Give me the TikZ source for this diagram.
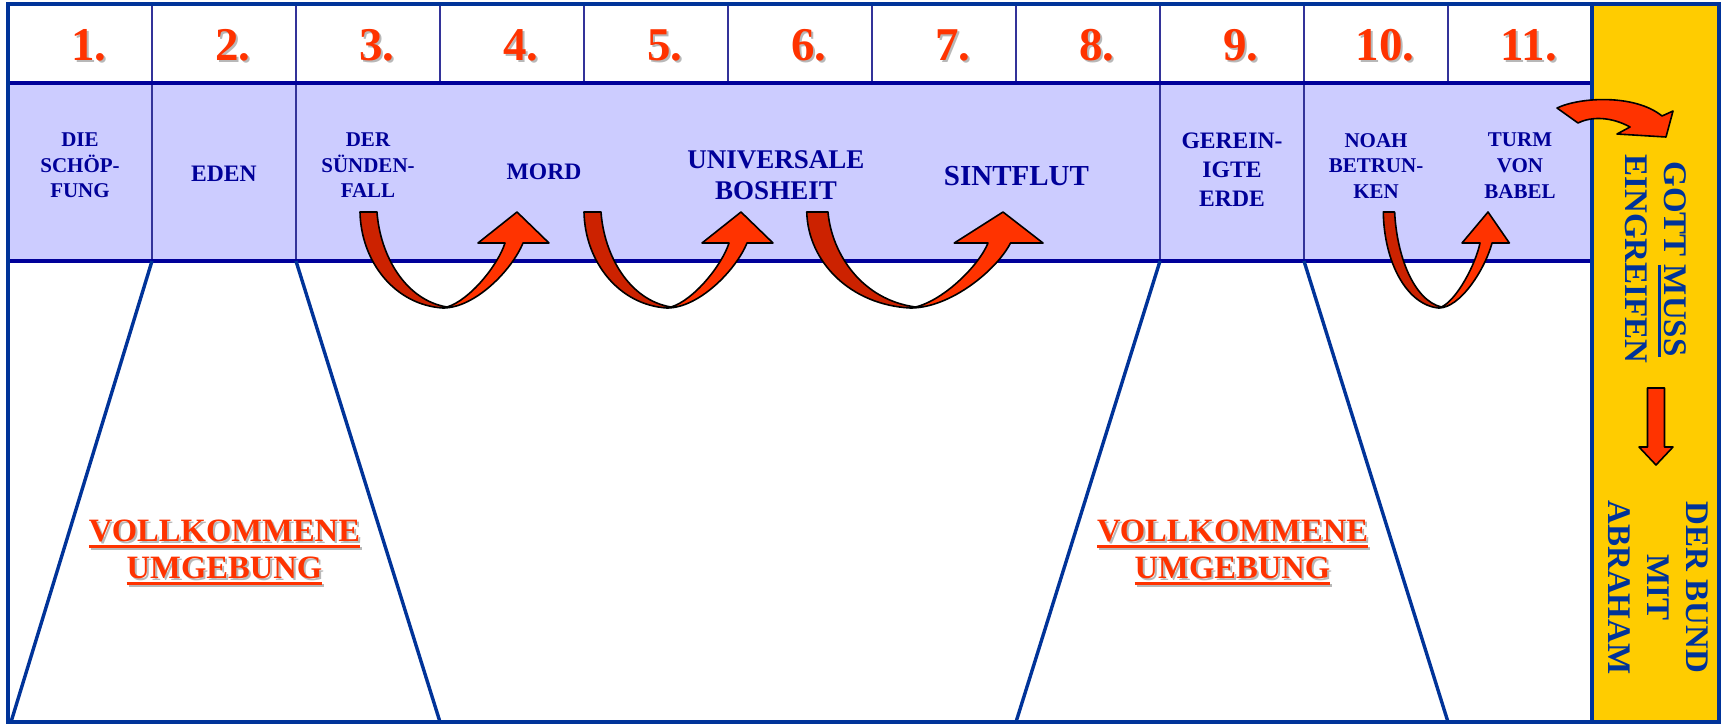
\documentclass[tikz,border=0pt]{standalone}
\usepackage{fontspec}
\setmainfont{Liberation Serif}
\definecolor{rowblue}{HTML}{CCCCFF}
\definecolor{navy}{HTML}{000099}
\definecolor{gblue}{HTML}{003399}
\definecolor{divl}{HTML}{333399}
\definecolor{numred}{HTML}{FF3300}
\definecolor{darkred}{HTML}{CC2200}
\definecolor{gold}{HTML}{FFCC00}
\definecolor{shade}{HTML}{B8B8B8}
\newcommand\ulbar[1]{\setbox0=\hbox{#1}\rlap{\rule[-3.2pt]{\wd0}{1.5pt}}\box0}
\tikzset{
  txt/.style={text=navy, align=center, inner sep=0pt},
  smalltxt/.style={txt, font=\fontsize{10.5}{12.8}\selectfont\bfseries},
  midtxt/.style={txt, font=\fontsize{11.8}{14.5}\selectfont\bfseries},
  bigtxt/.style={txt, font=\fontsize{13.5}{15.8}\selectfont\bfseries},
  hugetxt/.style={txt, font=\fontsize{14.5}{16}\selectfont\bfseries},
  numtxt/.style={inner sep=0pt, text=numred, font=\fontsize{23.5}{23.5}\selectfont\bfseries},
  numshadow/.style={numtxt, text=shade},
  vktxt/.style={inner sep=0pt, align=center, text=numred, font=\fontsize{16.3}{18.8}\selectfont\bfseries},
  vkshadow/.style={vktxt, text=shade},
  ytxt/.style={inner sep=0pt, align=center, text=gblue, rotate=-90, font=\fontsize{16.5}{19.5}\selectfont\bfseries},
  divline/.style={draw=divl, line width=1.3pt},
  rowline/.style={draw=navy, line width=1.8pt},
  frameline/.style={draw=gblue, line width=1.7pt},
  arrowout/.style={draw=black, line width=0.8pt, line join=round},
  uarrow/.pic={
    \filldraw[arrowout, fill=darkred] (-85,-96) -- (-68,-96)
      .. controls (-65,-53) and (-40,-8) .. (2,-1) -- (-2,0)
      .. controls (-50,-3) and (-84,-46) .. (-85,-96) -- cycle;
    \filldraw[arrowout, fill=numred] (-2,0)
      .. controls (30,0) and (67,-38) .. (78,-65) -- (104,-65) -- (72,-96) -- (33,-65) -- (60,-65)
      .. controls (53,-43) and (25,-8) .. (2,-1) -- cycle;
  }
}
\begin{document}
\begin{tikzpicture}[x=0.5pt,y=-0.5pt]
\useasboundingbox (0,0) rectangle (1725,725);
\fill[white] (0,0) rectangle (1725,725);
% fills
\fill[rowblue] (8,83) rectangle (1592,261);
\fill[gold] (1592,4) rectangle (1719,722);
% dividers in number row
\foreach \xx in {152,296,440,584,728,872,1016,1160,1304,1448}
  \draw[divline] (\xx,4) -- (\xx,83);
% dividers in the blue row
\foreach \xx in {152,296,1160,1304}
  \draw[divline] (\xx,83) -- (\xx,261);
\draw[rowline] (8,83) -- (1592,83);
\draw[rowline] (8,261) -- (1592,261);
% trapezoids
\draw[frameline] (152,261) -- (11,722);
\draw[frameline] (296,261) -- (440,722);
\draw[frameline] (1160,261) -- (1016,722);
\draw[frameline] (1304,261) -- (1448,722);
% yellow column border and outer frame
\draw[frameline] (1592,4) -- (1592,722);
\draw[frameline] (8,4) rectangle (1719,722);
% numbers
\foreach \i in {1,...,11}{
  \pgfmathsetmacro\cx{89+144*(\i-1)}
  \node[numshadow] (ns\i) at (\cx+2,47) {\i.};
  \node[numtxt] (n\i) at (\cx,45) {\i.};
}
% blue row texts
\node[smalltxt] (t1) at (80,165.5) {DIE\\SCHÖP-\\FUNG};
\node[midtxt] (t2) at (224,173.7) {EDEN};
\node[smalltxt] (t3) at (368,165.5) {DER\\SÜNDEN-\\FALL};
\node[midtxt] (t4) at (544,171.7) {MORD};
\node[bigtxt] (t5) at (776,175) {UNIVERSALE\\BOSHEIT};
\node[hugetxt] (t6) at (1016.5,176.4) {SINTFLUT};
\node[midtxt] (t7) at (1232,170) {GEREIN-\\IGTE\\ERDE};
\node[smalltxt] (t8) at (1376,165.7) {NOAH\\BETRUN-\\KEN};
\node[smalltxt] (t9) at (1520,165.7) {TURM\\VON\\BABEL};
% curved arrows
\pic at (445,308) {uarrow};
\pic at (669,308) {uarrow};
\pic[xscale=1.25] at (913,308) {uarrow};
\pic[xscale=0.667] at (1440,308) {uarrow};
% arrow into the yellow column
\filldraw[arrowout, fill=numred] (1557,108) .. controls (1580,97) and (1635,94) .. (1662,116)
  -- (1673,111) -- (1666,137) -- (1617,134) -- (1630,127)
  .. controls (1612,117) and (1592,116) .. (1578,123) -- cycle;
% yellow column texts
\node[ytxt] (g1) at (1655.5,259) {GOTT \ulbar{MUSS}\\EINGREIFEN};
\filldraw[arrowout, fill=numred] (1647.5,388) -- (1664.5,388) -- (1664.5,447) -- (1673,447)
  -- (1656,465) -- (1639,447) -- (1647.5,447) -- cycle;
\node[ytxt] (g2) at (1658.3,587.5) {DER BUND\\MIT\\ABRAHAM};
% perfect environment labels
\node[vkshadow] (v1s) at (226.5,554.4) {\ulbar{VOLLKOMMENE}\\\ulbar{UMGEBUNG}};
\node[vktxt] (v1) at (224.5,552.4) {\ulbar{VOLLKOMMENE}\\\ulbar{UMGEBUNG}};
\node[vkshadow] (v2s) at (1234.5,554.4) {\ulbar{VOLLKOMMENE}\\\ulbar{UMGEBUNG}};
\node[vktxt] (v2) at (1232.5,552.4) {\ulbar{VOLLKOMMENE}\\\ulbar{UMGEBUNG}};
\end{tikzpicture}
\end{document}
